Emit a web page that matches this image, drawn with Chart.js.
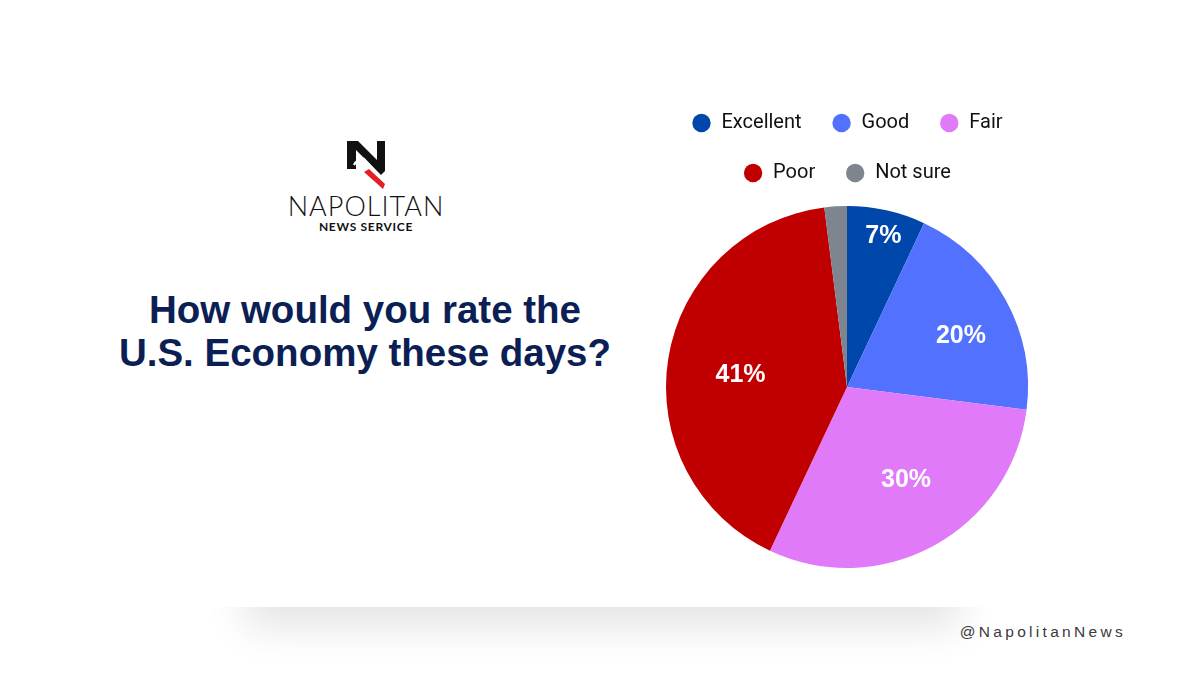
<!DOCTYPE html>
<html>
<head>
<meta charset="utf-8">
<script src="https://cdn.jsdelivr.net/npm/chart.js@4.4.1/dist/chart.umd.min.js"></script>
<style>
  html, body { margin: 0; padding: 0; background: #fff; }
  body { width: 1200px; height: 675px; position: relative; overflow: hidden; }
  #shadowClip { position: absolute; left: 0; top: 607px; width: 1200px; height: 68px; overflow: hidden; }
  #shadow {
    position: absolute; left: 245px; top: -60px; width: 715px; height: 60px;
    background: #fff; box-shadow: 0 20px 40px 0 rgba(0,0,0,0.11);
  }
  #logo { position: absolute; left: 216px; top: 138px; width: 300px; text-align: center; }
  #logo svg { display: block; margin: 0 auto; }
  #logo .name { font-family: Lato, "Open Sans", sans-serif; font-weight: 300; font-size: 27px; letter-spacing: 1px; color: #111; line-height: 28px; }
  #logo .sub { font-family: Lato, sans-serif; font-weight: 700; font-size: 12px; letter-spacing: 0.7px; color: #111; line-height: 13px; }
  #title {
    position: absolute; left: 65px; top: 288px; width: 600px; text-align: center;
    font-family: "Liberation Sans", Arial, sans-serif; font-weight: 700; font-size: 38.5px;
    line-height: 43px; color: #0c1f55;
  }
  #handle {
    position: absolute; right: 74px; top: 623px;
    font-family: "Liberation Sans", Arial, sans-serif; font-size: 15.5px; letter-spacing: 3.3px; color: #3a3a3a;
  }
  #wrap { position: absolute; left: 647px; top: 83px; width: 400px; height: 498px; }
</style>
</head>
<body>
<div id="shadowClip"><div id="shadow"></div></div>
<div id="logo">
  <svg width="42" height="54" viewBox="0 0 42 54">
    <path d="M2 3 H13 L32 22 V3 H40 V33 L36 37 L11 12 V31 H2 Z" fill="#111"/>
    <path d="M9 27 Q13 20 19 21 L31 34" fill="none" stroke="#fff" stroke-width="2.4"/>
    <polygon points="19,34 24,31 40,46 38,51" fill="#e41e26"/>
  </svg>
  <div class="name">NAPOLITAN</div>
  <div class="sub">NEWS SERVICE</div>
</div>
<div id="title">How would you rate the<br>U.S. Economy these days?</div>
<div id="handle">@NapolitanNews</div>
<div id="wrap"><canvas id="pie"></canvas></div>
<script>
// chart data
const categories = ['Excellent', 'Good', 'Fair', 'Poor', 'Not sure'];
const shares = [7, 20, 30, 41, 2];
const sliceColors = ['#0047ab', '#5271ff', '#e07af8', '#c00000', '#7f858f'];

// white percent labels drawn inside the slices
const sliceLabels = {
  id: 'sliceLabels',
  afterDatasetsDraw(chart, args, opts) {
    const ctx = chart.ctx;
    const arcs = chart.getDatasetMeta(0).data;
    ctx.save();
    ctx.fillStyle = '#fff';
    ctx.font = 'bold 25px "Liberation Sans", Arial, sans-serif';
    ctx.textAlign = 'center';
    ctx.textBaseline = 'middle';
    arcs.forEach((arc, i) => {
      const v = shares[i];
      if (v < opts.minValue) return;
      const mid = (arc.startAngle + arc.endAngle) / 2 + opts.nudge[i] * Math.PI / 180;
      const r = arc.outerRadius * opts.ratios[i];
      ctx.fillText(v + '%', arc.x + Math.cos(mid) * r, arc.y + Math.sin(mid) * r);
    });
    ctx.restore();
  }
};

new Chart(document.getElementById('pie').getContext('2d'), {
  type: 'pie',
  data: {
    labels: categories,
    datasets: [{
      data: shares,
      backgroundColor: sliceColors,
      borderWidth: 0,
      radius: 181
    }]
  },
  options: {
    responsive: true,
    maintainAspectRatio: false,
    animation: false,
    layout: { padding: 0 },
    plugins: {
      legend: {
        position: 'top',
        labels: {
          usePointStyle: true,
          pointStyle: 'circle',
          boxWidth: 20,
          boxHeight: 13,
          padding: 30,
          color: '#111',
          font: { family: 'Roboto, sans-serif', size: 20 }
        }
      },
      tooltip: { enabled: false },
      sliceLabels: {
        minValue: 5,
        ratios: [0.855, 0.69, 0.607, 0.592, 0.6],
        nudge: [1, 4.6, -3.7, -2.7, 0]
      }
    }
  },
  plugins: [sliceLabels]
});
</script>
</body>
</html>
